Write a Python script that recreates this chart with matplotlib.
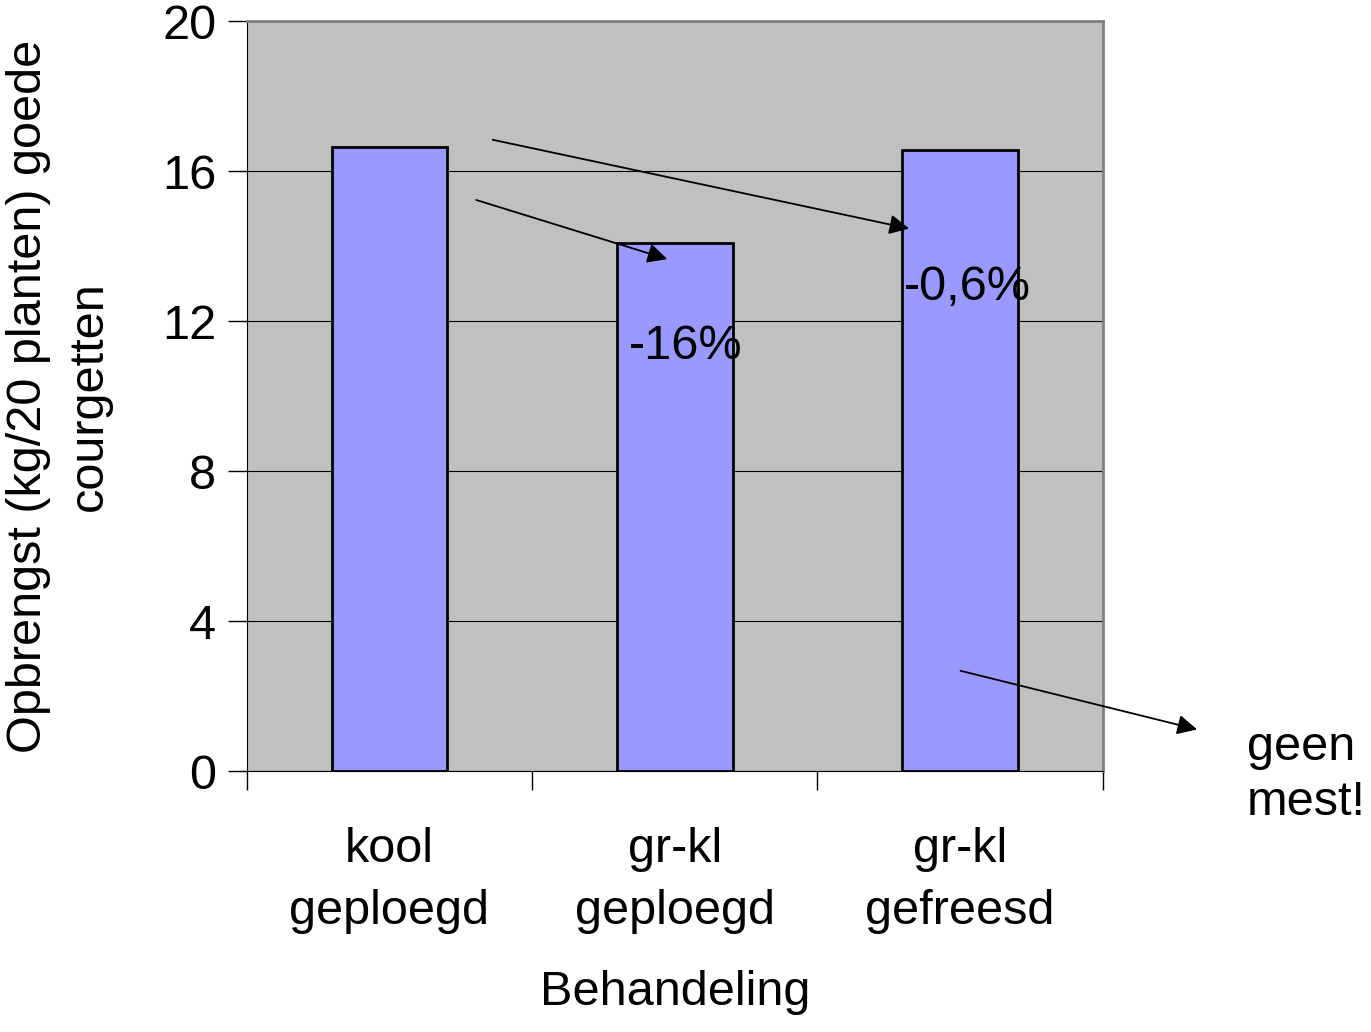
import numpy as np
import matplotlib.pyplot as plt

plt.rcParams['font.family'] = ['Liberation Sans', 'DejaVu Sans']

categories = ['kool\ngeploegd', 'gr-kl\ngeploegd', 'gr-kl\ngefreesd']
yields = [16.64, 14.08, 16.56]

fig = plt.figure(figsize=(13.71, 10.32), dpi=100)
ax = fig.add_axes([0.180, 0.2529, 0.6244, 0.7267])
ax.set_facecolor('#c0c0c0')

x = np.arange(len(categories))
ax.bar(x, yields, width=0.405, color='#9999ff', edgecolor='black', linewidth=2, zorder=3)

ax.set_xlim(-0.5, 2.5)
ax.set_ylim(0, 20)
ax.set_yticks([0, 4, 8, 12, 16, 20])
ax.yaxis.grid(True, color='black', linewidth=0.8, zorder=0)
ax.set_xticks(x)
ax.set_xticklabels(categories, fontsize=35, linespacing=1.5)
ax.set_xticks([-0.5, 0.5, 1.5, 2.5], minor=True)
ax.tick_params(axis='x', which='major', length=0, pad=40)
ax.tick_params(axis='x', which='minor', length=14, width=1)
ax.tick_params(axis='y', labelsize=35, length=14, width=1, pad=8)
for s in ['top', 'right']:
    ax.spines[s].set_color('#808080')
    ax.spines[s].set_linewidth(2)

ax.set_xlabel('Behandeling', fontsize=35, labelpad=26)
ax.set_ylabel('Opbrengst (kg/20 planten) goede\ncourgetten', fontsize=35, labelpad=36,
              linespacing=1.45)

arrow = dict(arrowstyle='-|>', color='black', lw=1.3, mutation_scale=30)
ax.annotate('', xy=(1.831, 14.45), xytext=(0.352, 16.85), arrowprops=arrow, annotation_clip=False)
ax.annotate('', xy=(0.983, 13.63), xytext=(0.295, 15.25), arrowprops=arrow, annotation_clip=False)
ax.annotate('', xy=(2.84, 1.09), xytext=(1.992, 2.69), arrowprops=arrow, annotation_clip=False)

ax.text(1.039, 11.31, '-16%', fontsize=35, ha='center', va='center', zorder=5)
ax.text(2.024, 12.9, '-0,6%', fontsize=35, ha='center', va='center', zorder=5)
ax.text(3.005, -0.1, 'geen\nmest!', fontsize=35, ha='left', va='center', linespacing=1.3, clip_on=False)

fig.savefig('out.png')
